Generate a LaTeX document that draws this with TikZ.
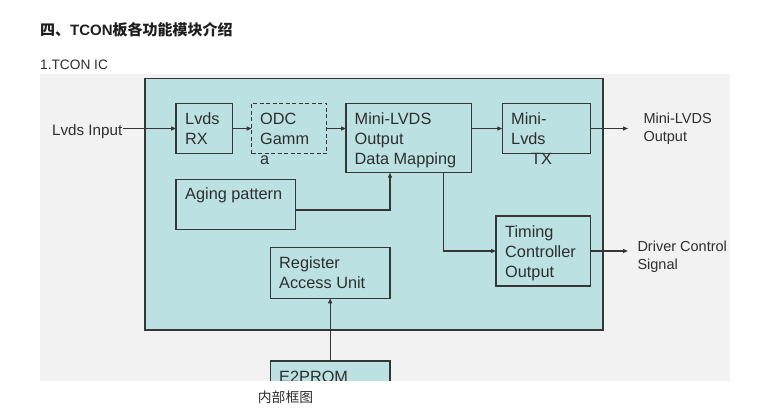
\documentclass[tikz,border=0pt]{standalone}
\usepackage{fontspec}
\setmainfont{Liberation Sans}
\newfontfamily\cjk{Noto Sans CJK SC}
\usetikzlibrary{arrows.meta}
\definecolor{bgray}{HTML}{F2F2F2}
\definecolor{cyanf}{HTML}{BCE1E3}
\definecolor{ln}{HTML}{363636}
\definecolor{tx}{HTML}{2E2E2E}
\newcommand{\fl}{\rule{0pt}{13pt}}
\newcommand{\fs}{\rule{0pt}{13pt}}
\begin{document}
\begin{tikzpicture}[x=1pt,y=-1pt,
  blk/.style={draw=ln, line width=1.35pt, fill=cyanf, inner sep=0pt, outer sep=0pt, anchor=north west},
  txt/.style={anchor=north west, align=left, inner sep=0pt, text=tx, font=\fontsize{16.3}{20}\selectfont},
  lbl/.style={anchor=north west, align=left, inner sep=0pt, text=tx, font=\fontsize{14.5}{18}\selectfont},
  arr/.style={draw=ln, line width=1.2pt, -{Triangle[length=5pt,width=4pt]}}]
\useasboundingbox (0,0) rectangle (764,418);
\fill[white] (0,0) rectangle (764,418);
% header texts
\node[anchor=base west, inner sep=0pt, text=black!88] (title) at (40,35)
  {\fontsize{15}{18}\selectfont\bfseries{\cjk 四、}TCON{\cjk 板各功能模块介绍}};
\node[anchor=base west, inner sep=0pt, text=tx] (sub) at (40,69)
  {\fontsize{13.7}{16}\selectfont 1.TCON IC};
\node[anchor=base west, inner sep=0pt, text=tx] (cap) at (257.7,402.3)
  {\fontsize{13.8}{16}\selectfont\cjk 内部框图};
\begin{scope}
\clip (40,74) rectangle (730,380.5);
\fill[bgray] (40,74) rectangle (730,380.5);
% outer block
\node[blk, line width=1.6pt, minimum width=457.7pt, minimum height=251.4pt] (outer) at (145,78.3) {};
% inner blocks
\node[blk, minimum width=56.3pt, minimum height=50.4pt] (rx) at (176,103.3) {};
\node[blk, dash pattern=on 4pt off 2.5pt, minimum width=75pt, minimum height=50.4pt] (odc) at (251.7,103.3) {};
\node[blk, minimum width=125.7pt, minimum height=69.4pt] (map) at (346,103.3) {};
\node[blk, minimum width=88.4pt, minimum height=50.4pt] (tx) at (502.3,103.3) {};
\node[blk, minimum width=119.7pt, minimum height=50pt] (aging) at (176,179.3) {};
\node[blk, minimum width=119.7pt, minimum height=50.6pt] (reg) at (270.3,247.7) {};
\node[blk, minimum width=94.7pt, minimum height=70pt] (tim) at (496,216) {};
\node[blk, minimum width=119.7pt, minimum height=45pt] (e2) at (270.3,361) {};
% texts
\node[txt] (rxt) at (185,111) {\fl Lvds\\RX};
\node[txt] (odct) at (260,111) {\fl ODC\\Gamm\\a};
\node[txt] (mapt) at (354.5,111) {\fl Mini-LVDS\\Output\\Data Mapping};
\node[txt] (txt1) at (511,111) {\fl Mini-\\Lvds\\\hspace*{20pt}TX};
\node[txt] (agingt) at (185,186.5) {\fl Aging pattern};
\node[txt] (regt) at (279,255) {\fl Register\\Access Unit};
\node[txt] (timt) at (505,224) {\fl Timing\\Controller\\Output};
\node[txt] (e2t) at (279,369) {\fl E2PROM};
\node[anchor=base east, inner sep=0pt, text=tx, font=\fontsize{15.2}{18}\selectfont] (lin) at (122.5,135) {Lvds Input};
\node[lbl] (outl) at (643.3,110.3) {\fs Mini-LVDS\\Output};
\node[lbl] (drv) at (637.3,238.7) {\fs Driver Control\\Signal};
% connectors
\coordinate (o1) at (628,128.5);
\draw[arr] (lin.east |- rx.west) -- (rx.west);
\draw[arr] (rx.east) -- (odc.west);
\draw[arr] (odc.east) -- (odc.east -| map.west);
\draw[arr] (map.east |- tx.west) -- (tx.west);
\draw[arr] (tx.east) -- (tx.east -| o1);
\draw[arr] ([yshift=-5.7pt]aging.east) -| ([xshift=-18.85pt]map.south);
\draw[arr] ([xshift=34.45pt]map.south) |- (tim.west);
\draw[arr] (tim.east) -- (tim.east -| o1);
\draw[arr] (e2.north) -- (reg.south);
\end{scope}
\end{tikzpicture}
\end{document}
